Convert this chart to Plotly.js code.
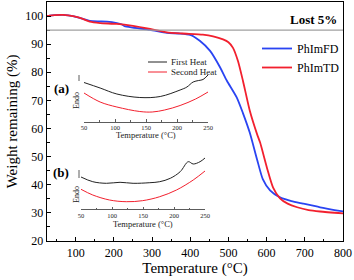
<!DOCTYPE html>
<html><head><meta charset="utf-8">
<script src="https://cdn.plot.ly/plotly-3.0.1.min.js"></script>
<style>html,body{margin:0;padding:0;background:#fff}#c{width:354px;height:280px}</style>
</head><body><div id="c"></div>
<script>
// Main TGA data
const fdTemp = [25,45,67,93,119,137,160,182,208,220,228,250,295,339,370,400,425,452,478,496,522,538,556,575,590,609,635,665,695,740,800];
const fdWeight = [100.0,100.3,100.4,100.0,99.0,98.3,98.1,98.0,97.5,97.1,96.4,95.9,95.1,94.0,93.8,93.3,91.2,87.6,81.8,77.0,71.0,65.5,58.5,49.0,42.0,38.0,35.5,34.2,33.3,32.0,30.5];
const tdTemp = [25,45,67,93,119,137,164,208,250,295,339,380,433,460,486,500,512,525,538,556,575,583,601,617,635,655,680,710,740,800];
const tdWeight = [100.0,100.3,100.4,100.0,99.0,98.0,97.5,97.2,96.5,95.4,94.2,93.8,93.4,92.8,91.7,90.7,88.7,84.0,77.0,66.3,58.0,55.0,46.0,39.0,35.2,33.3,32.0,31.0,30.5,29.8];
const lossLevel = 95;
// Inset (a) DSC (arbitrary units)
const aFirstT = [50,76,103,140,173,205,216,226,235,242,250];
const aFirstH = [42.5,37,31,27.5,28.5,35,38,43,44.5,45.5,50];
const aSecondT = [50,76,103,140,160,180,205,230,250];
const aSecondH = [32,23,18,13.5,13,15,19.5,26,33];
// Inset (b)
const bFirstT = [50,69,91,113,134,161,177,194,210,223,231,242,250];
const bFirstH = [38,33.3,31.7,32.7,31.7,32.3,33.3,36.7,43.3,53.3,51,53.3,57];
const bSecondT = [50,69,96,123,149,177,204,231,250];
const bSecondH = [25.7,20,15,13.3,14.3,18.3,25,35,44];

const serif = 'Liberation Serif, Times New Roman, serif';
const blue = '#2a44f2', red = '#f2202e';

const traces = [
  {x: fdTemp, y: fdWeight, name: 'PhImFD', mode: 'lines', line: {color: blue, width: 1.8, shape: 'spline', smoothing: 0.6}},
  {x: tdTemp, y: tdWeight, name: 'PhImTD', mode: 'lines', line: {color: red, width: 1.8, shape: 'spline', smoothing: 0.6}},
  {x: aFirstT, y: aFirstH, xaxis: 'x2', yaxis: 'y2', mode: 'lines', showlegend: false, line: {color: '#222', width: 1, shape: 'spline'}},
  {x: aSecondT, y: aSecondH, xaxis: 'x2', yaxis: 'y2', mode: 'lines', showlegend: false, line: {color: red, width: 1, shape: 'spline'}},
  {x: bFirstT, y: bFirstH, xaxis: 'x3', yaxis: 'y3', mode: 'lines', showlegend: false, line: {color: '#222', width: 1, shape: 'spline'}},
  {x: bSecondT, y: bSecondH, xaxis: 'x3', yaxis: 'y3', mode: 'lines', showlegend: false, line: {color: red, width: 1, shape: 'spline'}}
];

function px(x){return (x-47)/296;}
function py(y){return (241-y)/239;}

const insetX = (dom, anchor) => ({
  domain: dom, anchor: anchor, range: [50,250], tick0: 50, dtick: 50,
  showline: true, linecolor: '#333', linewidth: 0.8, ticks: 'inside', ticklen: 2.5, tickwidth: 0.8, tickcolor: '#333',
  minor: {dtick: 25, ticks: 'inside', ticklen: 1.5, tickcolor: '#333', tickwidth: 0.8},
  showgrid: false, zeroline: false, tickfont: {family: serif, size: 6.5, color: '#222'}
});

const ann = (text, x, y, opts) => Object.assign({text: text, xref: 'paper', yref: 'paper', x: px(x), y: py(y), xanchor: 'center', yanchor: 'middle', showarrow: false}, opts);

const layout = {
  width: 354, height: 280,
  margin: {l: 47, r: 11, t: 2, b: 39},
  paper_bgcolor: '#fff', plot_bgcolor: 'rgba(0,0,0,0)',
  showlegend: true,
  legend: {x: px(257), y: py(34), xanchor: 'left', yanchor: 'top', bgcolor: 'rgba(0,0,0,0)',
           font: {family: serif, size: 12, color: '#000'}, tracegroupgap: 0},
  xaxis: {domain: [0,1], range: [25,800], tick0: 0, dtick: 100, showline: true, mirror: true, linecolor: '#000', linewidth: 1.3,
          ticks: 'inside', ticklen: 4, tickwidth: 1, tickcolor: '#000',
          minor: {dtick: 50, ticks: 'inside', ticklen: 2.5, tickcolor: '#000'},
          showgrid: false, zeroline: false, tickfont: {family: serif, size: 12, color: '#000'},
          title: {text: 'Temperature (°C)', font: {family: serif, size: 15, color: '#000'}, standoff: 2}},
  yaxis: {domain: [0,1], range: [20,105], tick0: 0, dtick: 10, showline: true, mirror: true, linecolor: '#000', linewidth: 1.3,
          ticks: 'inside', ticklen: 4, tickwidth: 1, tickcolor: '#000',
          minor: {dtick: 5, ticks: 'inside', ticklen: 2.5, tickcolor: '#000'},
          showgrid: false, zeroline: false, tickfont: {family: serif, size: 12, color: '#000'},
          title: {text: 'Weight remaining (%)', font: {family: serif, size: 15, color: '#000'}, standoff: 4}},
  xaxis2: insetX([px(84), px(208)], 'y2'),
  yaxis2: {domain: [py(121.7), py(62)], anchor: 'x2', range: [125-121.7, 125-62], visible: false},
  xaxis3: insetX([px(81), px(205)], 'y3'),
  yaxis3: {domain: [py(209), py(150)], anchor: 'x3', range: [215-209, 215-150], visible: false},
  shapes: [
    {type: 'line', xref: 'paper', yref: 'y', x0: 0, x1: 1, y0: lossLevel, y1: lossLevel, line: {color: '#a0a0a0', width: 1.3}},
    {type: 'line', xref: 'paper', yref: 'paper', x0: px(148), x1: px(167), y0: py(62), y1: py(62), line: {color: '#222', width: 1}},
    {type: 'line', xref: 'paper', yref: 'paper', x0: px(148), x1: px(167), y0: py(72), y1: py(72), line: {color: red, width: 1}},
    {type: 'line', xref: 'paper', yref: 'paper', x0: px(79), x1: px(79), y0: py(81), y1: py(75), line: {color: '#333', width: 0.8}},
    {type: 'line', xref: 'paper', yref: 'paper', x0: px(79), x1: px(79), y0: py(178), y1: py(170), line: {color: '#333', width: 0.8}}
  ],
  annotations: [
    ann('<b>Lost 5%</b>', 339, 19, {xanchor: 'right', font: {family: serif, size: 13, color: '#000'}}),
    ann('First Heat', 169, 62, {xanchor: 'left', font: {family: serif, size: 9, color: '#222'}}),
    ann('Second Heat', 169, 72, {xanchor: 'left', font: {family: serif, size: 9, color: '#222'}}),
    ann('<b>(a)</b>', 61, 88, {font: {family: serif, size: 13, color: '#000'}}),
    ann('<b>(b)</b>', 61, 173, {font: {family: serif, size: 13, color: '#000'}}),
    ann('Endo', 76, 101, {textangle: -90, font: {family: serif, size: 8, color: '#222'}}),
    ann('Endo', 76, 195, {textangle: -90, font: {family: serif, size: 8, color: '#222'}}),
    ann('Temperature (°C)', 146, 135, {font: {family: serif, size: 8.5, color: '#222'}}),
    ann('Temperature (°C)', 143, 224, {font: {family: serif, size: 8.5, color: '#222'}})
  ]
};

Plotly.newPlot('c', traces, layout, {displayModeBar: false, staticPlot: true});
</script></body></html>
